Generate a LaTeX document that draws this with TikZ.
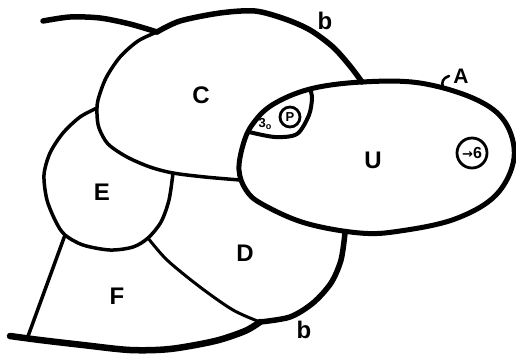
\documentclass[tikz,border=0pt]{standalone}
\usepackage{fontspec}
\setmainfont{Liberation Sans}
\newfontfamily\dvsans{DejaVu Sans}
\begin{document}
\begin{tikzpicture}[x=1pt,y=-1pt,
  thickline/.style={line width=5.5pt, line cap=round, line join=round},
  medline/.style={line width=3.5pt, line cap=round, line join=round},
  thinline/.style={line width=3pt, line cap=round, line join=round},
  lbl/.style={font=\fontsize{24}{24}\selectfont\bfseries, inner sep=0pt},
  smalllbl/.style={font=\fontsize{13}{13}\selectfont\bfseries, inner sep=0pt},
  circlbl/.style={circle, draw, line width=2.8pt, inner sep=0pt, font=\fontsize{13}{13}\selectfont\bfseries}]
\useasboundingbox (0,0) rectangle (516,357);
\fill[white] (0,0) rectangle (516,357);

% top boundary b
\draw[thickline] plot[smooth] coordinates {(43,21) (70,17) (100,18) (130,24) (157,32)};
\draw[thickline] plot[smooth] coordinates {(157,32) (180,21) (220,13) (255,11) (285,19) (310,30) (333,47) (350,66) (362,82)};

% C left and bottom
\draw[medline] plot[smooth] coordinates {(157,32) (138,41) (120,57) (106,78) (98,100) (97,114) (99,128) (108,144) (127,157) (150,167) (173,173) (205,177) (240,180)};

% E
\draw[medline] plot[smooth] coordinates {(97,108) (80,117) (63,133) (50,153) (44,175) (47,200) (56,222) (65,235) (83,245) (110,250) (133,247) (148,238) (161,222) (169,200) (173,173)};

% F left side
\draw[medline] (65,235) -- (27,339);

% D / F boundary
\draw[thinline] plot[smooth] coordinates {(148,238) (167,260) (200,287) (233,310) (260,322)};

% D right, thick
\draw[thickline] plot[smooth] coordinates {(345,233) (341,260) (331,283) (313,303) (290,317) (260,322)};
% bottom boundary b
\draw[line width=6.5pt, line cap=round, line join=round] plot[smooth] coordinates {(260,322) (245,331) (215,341) (170,349) (130,350) (83,345) (40,340) (10,336)};

% U region (A boundary)
\draw[line width=5pt, line join=round] plot[smooth cycle, tension=0.6] coordinates {(239,170) (243,145) (252,125) (272,105) (310,89) (362,82) (420,83) (475,99) (505,122) (514,158) (496,195) (455,219) (400,231) (360,233) (305,223) (262,204) (246,190)};

% lens
\draw[line width=4pt, line cap=round] plot[smooth] coordinates {(249,132) (275,137) (297,134) (309,115) (312,98) (310,89)};

% A leader
\draw[line width=2.5pt, line cap=round] (443,87) .. controls (441,82) and (443,78) .. (449,76);

% labels
\node[lbl] (lC) at (201,95) {C};
\node[lbl] (lE) at (102,192) {E};
\node[lbl] (lD) at (245,253) {D};
\node[lbl] (lF) at (117,296) {F};
\node[lbl] (lU) at (373,160) {U};
\node[lbl] (lb1) at (325,21) {b};
\node[lbl] (lb2) at (304,330) {b};
\node[font=\fontsize{21}{21}\selectfont\bfseries, inner sep=0pt] (lA) at (461,76) {A};

\node[circlbl, minimum size=30pt, font=\fontsize{16}{16}\selectfont\bfseries] (c6) at (472,153) {{\dvsans\bfseries\fontsize{13}{13}\selectfont →}6};
\node[circlbl, minimum size=20pt] (cP) at (290,117) {P};
\node[smalllbl] (l3) at (265,124) {3\raisebox{-2pt}{\fontsize{9}{9}\selectfont o}};
\end{tikzpicture}
\end{document}
